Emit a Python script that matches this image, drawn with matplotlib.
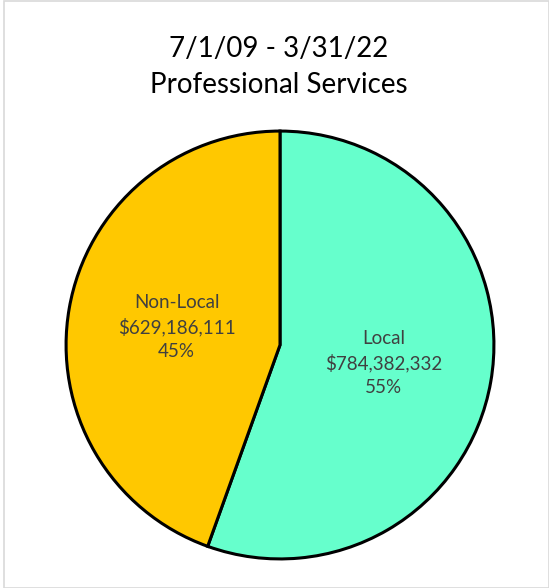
import matplotlib
matplotlib.use("Agg")
import matplotlib.pyplot as plt
import numpy as np

# Data
categories = ["Local", "Non-Local"]
amounts = [784382332, 629186111]
colors = ["#66FFCC", "#FFC800"]
title_lines = ["7/1/09 - 3/31/22", "Professional Services"]

plt.rcParams["font.family"] = ["Lato", "DejaVu Sans"]

fig = plt.figure(figsize=(5.49, 5.88), dpi=100)
fig.patch.set_facecolor("white")

# light gray frame around the chart area
frame = plt.Rectangle((4 / 549, 0.5 / 588), 1 - 4.5 / 549, 1 - 1 / 588,
                      transform=fig.transFigure, fill=False,
                      edgecolor="#D9D9D9", linewidth=1.2)
fig.add_artist(frame)

ax = fig.add_axes([65 / 549, 28 / 588, 430 / 549, 430 / 588])
wedges, _ = ax.pie(amounts, colors=colors, startangle=90, counterclock=False,
                   wedgeprops=dict(edgecolor="black", linewidth=2.2))
ax.set_xlim(-1.005, 1.005)
ax.set_ylim(-1.005, 1.005)
ax.set_aspect("equal")

total = sum(amounts)
for w, cat, val in zip(wedges, categories, amounts):
    mid = np.deg2rad((w.theta1 + w.theta2) / 2)
    r = 0.49
    txt = f"{cat}\n${val:,.0f}\n{val / total:.0%}"
    ax.text(r * np.cos(mid), r * np.sin(mid), txt, ha="center", va="center",
            fontsize=13.5, color="#404040", linespacing=1.45)

fig.text(0.508, 0.886, "\n".join(title_lines), ha="center", va="center",
         fontsize=20, color="black", linespacing=1.45)

fig.savefig("out.png", dpi=100)
